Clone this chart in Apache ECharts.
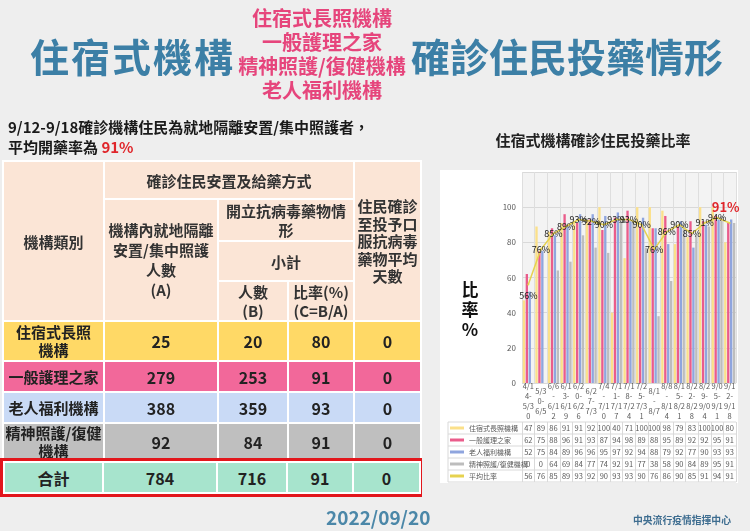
<!DOCTYPE html>
<html><head><meta charset="utf-8">
<script src="https://cdn.jsdelivr.net/npm/echarts@6/dist/echarts.min.js"></script>
<style>
html,body{margin:0;padding:0;}
body{width:750px;height:531px;background:#eeeeee;position:relative;overflow:hidden;font-family:"Noto Sans CJK TC","Noto Sans",sans-serif;}
#panel{position:absolute;left:440px;top:170px;width:298px;height:313px;background:#fff;z-index:0;}
#chart{position:absolute;left:0;top:0;width:750px;height:531px;z-index:1;}
.abs{position:absolute;white-space:nowrap;z-index:2;}
.big{color:#3c7fa6;font-size:39px;font-weight:bold;line-height:40px;}
.pink{color:#e6457c;font-size:20px;font-weight:bold;line-height:24px;text-align:center;}
.sub{font-size:15px;font-weight:bold;color:#1a1a1a;line-height:20px;}
table{border-collapse:collapse;table-layout:fixed;}
th,td{border:2px solid #fff;padding:0;text-align:center;vertical-align:middle;font-weight:bold;color:#222;}
#tbl th{background:#fbe5d6;font-size:15px;line-height:19px;color:#333;}
#tbl td{font-size:16px;}
#tbl td.lab{font-size:15px;line-height:18px;}
#totalBox{position:absolute;left:0px;top:458px;width:416px;height:33px;border:3px solid #e2161c;z-index:2;}
#totalBox td{background:#a7e4cd;font-size:16px;}
</style></head>
<body>
<div id="panel"></div>
<div id="chart"></div>

<div class="abs big" style="left:30px;top:35px;letter-spacing:2px;">住宿式機構</div>
<div class="abs pink" style="left:222px;top:6px;width:200px;">住宿式長照機構<br>一般護理之家<br>精神照護/復健機構<br>老人福利機構</div>
<div class="abs big" style="left:411px;top:35px;">確診住民投藥情形</div>

<div class="abs sub" style="left:8px;top:117px;">9/12-9/18確診機構住民為就地隔離安置/集中照護者，<br>平均開藥率為 <span style="color:#e0262b;">91%</span></div>

<div class="abs" style="left:593px;top:130px;transform:translateX(-50%);font-size:15px;font-weight:bold;color:#222;line-height:20px;">住宿式機構確診住民投藥比率</div>
<div class="abs" style="left:470px;top:279px;transform:translateX(-50%);font-size:17px;font-weight:bold;color:#111;line-height:20px;text-align:center;">比<br>率<br>%</div>

<table id="tbl" class="abs" style="left:2px;top:160px;width:418px;">
<colgroup><col style="width:101px"><col style="width:114px"><col style="width:70px"><col style="width:66px"><col style="width:67px"></colgroup>
<tr style="height:38px"><th rowspan="4">機構類別</th><th colspan="3">確診住民安置及給藥方式</th><th rowspan="4" style="line-height:17.5px;">住民確診<br>至投予口<br>服抗病毒<br>藥物平均<br>天數</th></tr>
<tr style="height:42px"><th rowspan="3" style="line-height:20px;">機構內就地隔離<br>安置/集中照護<br>人數<br>(A)</th><th colspan="2">開立抗病毒藥物情<br>形</th></tr>
<tr style="height:40px"><th colspan="2">小計</th></tr>
<tr style="height:38px"><th>人數<br>(B)</th><th>比率(%)<br>(C=B/A)</th></tr>
</table>

<div id="totalBox"><table style="width:416px;height:33px;">
<colgroup><col style="width:99px"><col style="width:114px"><col style="width:70px"><col style="width:66px"><col style="width:67px"></colgroup>
<tr id="totalRow"></tr></table></div>

<div class="abs" style="left:326px;top:505px;font-size:19px;font-weight:bold;color:#4b87a8;line-height:24px;">2022/09/20</div>
<div class="abs" style="left:633px;top:513px;font-size:9.8px;font-weight:bold;color:#3e6d90;line-height:14px;">中央流行疫情指揮中心</div>

<script>
// ---- left table data ----
const facilityTypes = ['住宿式長照<br>機構','一般護理之家','老人福利機構','精神照護/復健<br>機構'];
const isolatedCount = [25, 279, 388, 92];
const prescribedCount = [20, 253, 359, 84];
const prescribedRate = [80, 91, 93, 91];
const avgDays = [0, 0, 0, 0];
const totalRow = ['合計', 784, 716, 91, 0];
const rowColors = ['#ffd966', '#f2689a', '#c9daf6', '#bfbfbf'];
const rowHeights = [40, 31, 31, 37];

// ---- chart data ----
const categories = ['4/14-5/30','5/30-6/5','6/6-6/12','6/13-6/19','6/20-6/26','6/27-7/3','7/4-7/10','7/11-7/17','7/18-7/24','7/25-7/31','8/1-8/7','8/8-8/14','8/15-8/21','8/22-8/28','8/29-9/04','9/05-9/11','9/12-9/18'];
const seriesNames = ['住宿式長照機構','一般護理之家','老人福利機構','精神照護/復健機構','平均比率'];
const longTermCare = [47,89,86,91,91,92,100,40,71,100,100,98,79,83,100,100,80];
const nursingHome = [62,75,88,96,91,93,87,94,98,89,88,95,89,92,92,95,91];
const elderlyWelfare = [52,75,84,89,96,96,95,97,92,94,88,79,92,77,90,93,93];
const psychiatric = [0,0,64,69,84,77,74,92,91,77,38,58,90,84,89,95,91];
const averageRate = [56,76,85,89,93,92,90,93,93,90,76,86,90,85,91,94,91];
const yTicks = [0,20,40,60,80,100];
const seriesColors = ['#fbe08a','#ea5c8b','#8fa5de','#bdbdbd','#e6d24f'];

// build left table body
const tbl = document.getElementById('tbl');
facilityTypes.forEach((name, i) => {
  const tr = document.createElement('tr');
  tr.style.height = rowHeights[i] + 'px';
  const cells = [name, isolatedCount[i], prescribedCount[i], prescribedRate[i], avgDays[i]];
  cells.forEach((c, j) => {
    const td = document.createElement('td');
    td.innerHTML = c;
    td.style.background = rowColors[i];
    if (j === 0) td.className = 'lab';
    tr.appendChild(td);
  });
  tbl.appendChild(tr);
});
const tr = document.getElementById('totalRow');
totalRow.forEach(c => { const td = document.createElement('td'); td.textContent = c; tr.appendChild(td); });

// ---- chart ----
const chart = echarts.init(document.getElementById('chart'), null, {renderer: 'canvas'});
const font = '"Noto Sans CJK TC","Noto Sans",sans-serif';

function wrapLabel(s) {
  const idx = s.indexOf('-');
  const parts = [s.slice(0, idx + 1), s.slice(idx + 1)];
  const lines = [];
  parts.forEach(p => { for (let k = 0; k < p.length; k += 3) lines.push(p.slice(k, k + 3)); });
  return lines.join('\n');
}

const rowSeries = [longTermCare, nursingHome, elderlyWelfare, psychiatric, averageRate];
const rowTop = 422, rowH = 12, axisY = 383;

const xAxes = [{
  type: 'category', data: categories, gridIndex: 0,
  axisLine: {show: false}, axisTick: {show: false},
  splitLine: {show: true, lineStyle: {color: '#dedede', width: 1}},
  axisLabel: {interval: 0, fontSize: 7.5, lineHeight: 10, color: '#595959', margin: 18,
    verticalAlign: 'middle', formatter: wrapLabel, fontFamily: font}
}];
rowSeries.forEach((arr, i) => {
  xAxes.push({
    type: 'category', data: arr.map(String), gridIndex: 0, position: 'bottom',
    offset: rowTop + rowH * i - axisY,
    axisLine: {show: false},
    axisTick: {show: true, length: rowH, lineStyle: {color: '#d9d9d9'}},
    splitLine: {show: false},
    axisLabel: {interval: 0, fontSize: 7.5, color: '#595959', margin: 6, verticalAlign: 'middle', fontFamily: font}
  });
});

const graphics = [];
for (let i = 0; i <= rowSeries.length; i++) {
  graphics.push({type: 'line', z: 10, shape: {x1: 448, y1: rowTop + rowH * i, x2: 736, y2: rowTop + rowH * i},
    style: {stroke: '#d9d9d9', lineWidth: 1}});
}
graphics.push({type: 'line', z: 10, shape: {x1: 448, y1: rowTop, x2: 448, y2: rowTop + rowH * rowSeries.length},
  style: {stroke: '#d9d9d9', lineWidth: 1}});

const barData = [longTermCare, nursingHome, elderlyWelfare, psychiatric];
const series = barData.map((arr, i) => ({
  type: 'bar', name: seriesNames[i], data: arr, xAxisIndex: 0, yAxisIndex: 0,
  barGap: '25%', barCategoryGap: '12%',
  itemStyle: {color: seriesColors[i]}
}));
const last = averageRate.length - 1;
series.push({
  type: 'line', name: seriesNames[4], xAxisIndex: 0, yAxisIndex: 0,
  data: averageRate.map((v, i) => {
    if (i === 0) return {value: v, label: {position: 'bottom', distance: 6}};
    if (i === last) return {value: v, label: {position: 'top', distance: 8, offset: [-4, 0], color: '#e0262b', fontSize: 13, fontWeight: 'bold'}};
    return v;
  }),
  symbol: 'circle', symbolSize: 2, lineStyle: {color: seriesColors[4], width: 1.5},
  itemStyle: {color: seriesColors[4]},
  label: {show: true, position: 'inside', formatter: '{c}%', fontSize: 9, color: '#1a1a1a', fontFamily: font},
  z: 5
});

chart.setOption({
  animation: false,
  textStyle: {fontFamily: font},
  grid: {left: 522, right: 14, top: 172, bottom: 148, show: true, backgroundColor: '#f3f3f3', borderWidth: 0},
  legend: {
    orient: 'vertical', left: 450, top: rowTop, padding: 0, itemGap: 0,
    itemWidth: 14, itemHeight: 3, icon: 'rect', data: seriesNames, selectedMode: false,
    textStyle: {fontSize: 7, lineHeight: 12, color: '#595959', fontFamily: font}
  },
  xAxis: xAxes,
  yAxis: {
    type: 'value', min: 0, max: 120, interval: 20,
    axisLine: {show: false}, axisTick: {show: false},
    splitLine: {lineStyle: {color: '#d9d9d9'}},
    axisLabel: {fontSize: 8, color: '#595959', margin: 6, formatter: v => yTicks.includes(v) ? String(v) : ''}
  },
  graphic: graphics,
  series: series
});
</script>
</body></html>
